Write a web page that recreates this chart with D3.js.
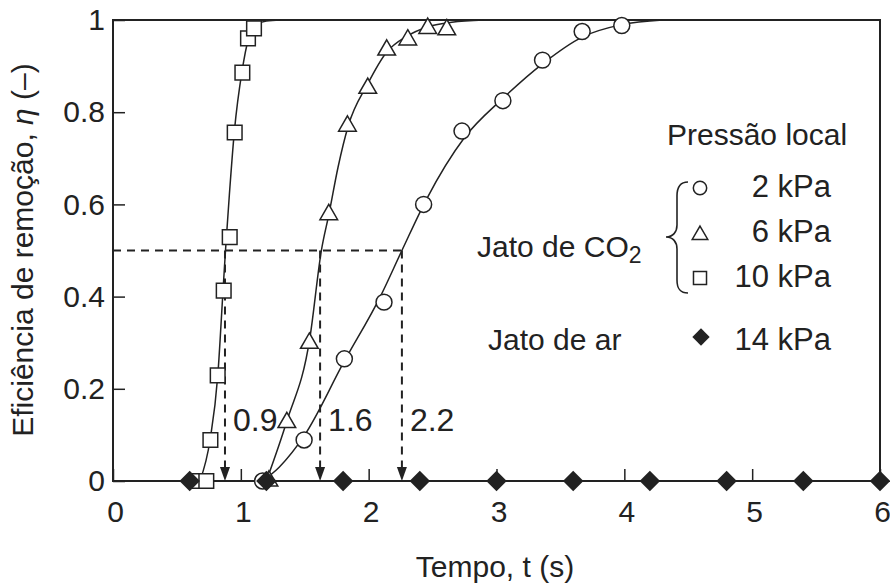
<!DOCTYPE html>
<html>
<head>
<meta charset="utf-8">
<script src="https://cdn.jsdelivr.net/npm/d3@7/dist/d3.min.js"></script>
<style>
  html, body { margin: 0; padding: 0; background: #fff; }
  svg { display: block; }
  text { font-family: "Liberation Sans", Arial, Helvetica, sans-serif; fill: #222; }
</style>
</head>
<body>
<svg id="chart" width="890" height="583"></svg>
<script>
// ---------- data ----------
const xTicks = [0, 1, 2, 3, 4, 5, 6];
const xTickLabels = ["0", "1", "2", "3", "4", "5", "6"];
const yTicks = [0, 0.2, 0.4, 0.6, 0.8, 1];
const yTickLabels = ["0", "0.2", "0.4", "0.6", "0.8", "1"];

// measured points (t [s], eta [-])
const pts2kPa = [[1.17,0],[1.495,0.089],[1.81,0.265],[2.12,0.388],[2.43,0.600],[2.73,0.759],[3.05,0.825],[3.36,0.913],[3.67,0.975],[3.98,0.988]];
const pts6kPa = [[1.22,0],[1.36,0.127],[1.536,0.299],[1.688,0.578],[1.834,0.770],[1.993,0.852],[2.141,0.935],[2.306,0.957],[2.462,0.982],[2.611,0.979]];
const pts10kPa = [[0.67,0],[0.73,0],[0.762,0.089],[0.819,0.229],[0.866,0.413],[0.913,0.529],[0.952,0.756],[1.012,0.886],[1.056,0.960],[1.103,0.982]];
const airTimes = [0.6, 1.2, 1.8, 2.4, 3.0, 3.6, 4.2, 4.8, 5.4, 6.0];
const airEta = [0, 0, 0, 0, 0, 0, 0, 0, 0, 0];

// fitted curves
const curve2kPa = [[1.17,0],[1.3,0.03],[1.5,0.1],[1.8,0.255],[2.1,0.405],[2.26,0.5],[2.45,0.61],[2.75,0.745],[3.05,0.83],[3.36,0.905],[3.67,0.963],[3.98,0.99],[4.3,1.0]];
const curve6kPa = [[1.2,0],[1.36,0.13],[1.54,0.31],[1.63,0.5],[1.69,0.58],[1.76,0.68],[1.84,0.77],[1.99,0.86],[2.14,0.93],[2.3,0.965],[2.46,0.985],[2.65,0.995],[2.9,1.0]];
const curve10kPa = [[0.68,0],[0.76,0.09],[0.82,0.23],[0.86,0.41],[0.88,0.5],[0.91,0.62],[0.95,0.76],[1.01,0.89],[1.06,0.96],[1.12,0.99],[1.2,0.998],[1.31,1.0]];

// 50% removal times
const halfEta = 0.5;
const halfTimes = [0.876, 1.62, 2.26];
const halfLabels = ["0.9", "1.6", "2.2"];

// legend
const legendTitle = "Pressão local";
const legendLabels = ["2 kPa", "6 kPa", "10 kPa", "14 kPa"];
const groupCO2 = "Jato de CO";
const groupAir = "Jato de ar";
const xTitle = "Tempo, t (s)";
const yTitle = "Eficiência de remoção, ";

// ---------- layout ----------
const svg = d3.select("#chart");
const ink = "#222";
const x = d3.scaleLinear().domain([0, 6]).range([113, 880]);
const y = d3.scaleLinear().domain([0, 1]).range([481, 20]);

// frame
svg.append("rect")
  .attr("x", x(0)).attr("y", y(1))
  .attr("width", x(6) - x(0)).attr("height", y(0) - y(1))
  .attr("fill", "none").attr("stroke", ink).attr("stroke-width", 2);

// axes (inward ticks)
const xAxis = d3.axisBottom(x).tickValues(xTicks)
  .tickFormat((d, i) => xTickLabels[i])
  .tickSizeInner(-12).tickSizeOuter(0).tickPadding(20);
const gx = svg.append("g").attr("transform", `translate(0,${y(0)})`).call(xAxis);
gx.select(".domain").remove();
gx.selectAll(".tick line").attr("stroke", ink).attr("stroke-width", 1.5);
gx.selectAll(".tick text").attr("font-size", 30).attr("dx", 2)
  .style("font-family", '"Liberation Sans", Arial, sans-serif').attr("fill", ink);

const yAxis = d3.axisLeft(y).tickValues(yTicks)
  .tickFormat((d, i) => yTickLabels[i])
  .tickSizeInner(-12).tickSizeOuter(0).tickPadding(8);
const gy = svg.append("g").attr("transform", `translate(${x(0)},0)`).call(yAxis);
gy.select(".domain").remove();
gy.selectAll(".tick line").attr("stroke", ink).attr("stroke-width", 1.5);
gy.selectAll(".tick text").attr("font-size", 30)
  .style("font-family", '"Liberation Sans", Arial, sans-serif').attr("fill", ink);

// curves
const line = d3.line().x(d => x(d[0])).y(d => y(d[1])).curve(d3.curveMonotoneX);
[curve2kPa, curve6kPa, curve10kPa].forEach(c => {
  svg.append("path").datum(c).attr("d", line)
    .attr("fill", "none").attr("stroke", ink).attr("stroke-width", 1.5);
});

// dashed guides
svg.append("line")
  .attr("x1", x(0)).attr("x2", x(d3.max(halfTimes)))
  .attr("y1", y(halfEta)).attr("y2", y(halfEta))
  .attr("stroke", ink).attr("stroke-width", 2).attr("stroke-dasharray", "8,6");
halfTimes.forEach((t, i) => {
  svg.append("line")
    .attr("x1", x(t)).attr("x2", x(t))
    .attr("y1", y(halfEta)).attr("y2", y(0) - 12)
    .attr("stroke", ink).attr("stroke-width", 2).attr("stroke-dasharray", "8,6");
  const xt = x(t), yt = y(0);
  svg.append("path")
    .attr("d", `M${xt},${yt} L${xt - 5},${yt - 14} L${xt + 5},${yt - 14} Z`)
    .attr("fill", ink);
  svg.append("text").attr("x", xt + 8).attr("y", 431)
    .attr("font-size", 32).text(halfLabels[i]);
});

// markers
const circleSym = d3.symbol().type(d3.symbolCircle).size(200);
const triSym = d3.symbol().type(d3.symbolTriangle).size(135);
const sqSym = d3.symbol().type(d3.symbolSquare).size(215);
const diaSym = d3.symbol().type(d3.symbolSquare).size(210);

function drawPts(data, sym) {
  svg.append("g").selectAll("path").data(data).join("path")
    .attr("d", sym)
    .attr("transform", d => `translate(${x(d[0])},${y(d[1])})`)
    .attr("fill", "#fff").attr("stroke", ink).attr("stroke-width", 1.5);
}
drawPts(pts10kPa, sqSym);
drawPts(pts6kPa, triSym);
drawPts(pts2kPa, circleSym);

svg.append("g").selectAll("path").data(airTimes).join("path")
  .attr("d", diaSym)
  .attr("transform", (d, i) => `translate(${x(d)},${y(airEta[i])}) rotate(45)`)
  .attr("fill", ink);

// axis titles
svg.append("text").attr("x", 495).attr("y", 577).attr("text-anchor", "middle")
  .attr("font-size", 30).text(xTitle);

const yt = svg.append("text")
  .attr("transform", "translate(33,250) rotate(-90)")
  .attr("text-anchor", "middle").attr("font-size", 30);
yt.append("tspan").text(yTitle);
yt.append("tspan").attr("font-style", "italic").text("η");
yt.append("tspan").text(" (–)");

// legend
svg.append("text").attr("x", 667).attr("y", 145).attr("font-size", 30).text(legendTitle);

const lgX = 700;
const lgY = [188, 235, 278, 337];
const lgSyms = [
  d3.symbol().type(d3.symbolCircle).size(140),
  d3.symbol().type(d3.symbolTriangle).size(105),
  d3.symbol().type(d3.symbolSquare).size(170)
];
lgSyms.forEach((s, i) => {
  svg.append("path").attr("d", s)
    .attr("transform", `translate(${lgX},${lgY[i]})`)
    .attr("fill", "#fff").attr("stroke", ink).attr("stroke-width", 1.5);
});
svg.append("path").attr("d", d3.symbol().type(d3.symbolSquare).size(150))
  .attr("transform", `translate(${lgX + 1},${lgY[3]}) rotate(45)`)
  .attr("fill", ink);

const lgBase = [197, 242, 287, 350];
legendLabels.forEach((l, i) => {
  svg.append("text").attr("x", 831).attr("y", lgBase[i])
    .attr("text-anchor", "end").attr("font-size", 31).text(l);
});

// brace
svg.append("path")
  .attr("d", "M688,182 C680,182 677,187 677,196 L677,225 C677,232 673,237 666,237 C673,237 677,242 677,249 L677,280 C677,289 680,293 688,293")
  .attr("fill", "none").attr("stroke", ink).attr("stroke-width", 1.6);

const co2 = svg.append("text").attr("x", 477).attr("y", 257).attr("font-size", 30);
co2.append("tspan").text(groupCO2);
co2.append("tspan").attr("font-size", 23).attr("dy", 6).text("2");

svg.append("text").attr("x", 488).attr("y", 350).attr("font-size", 30).text(groupAir);
</script>
</body>
</html>
